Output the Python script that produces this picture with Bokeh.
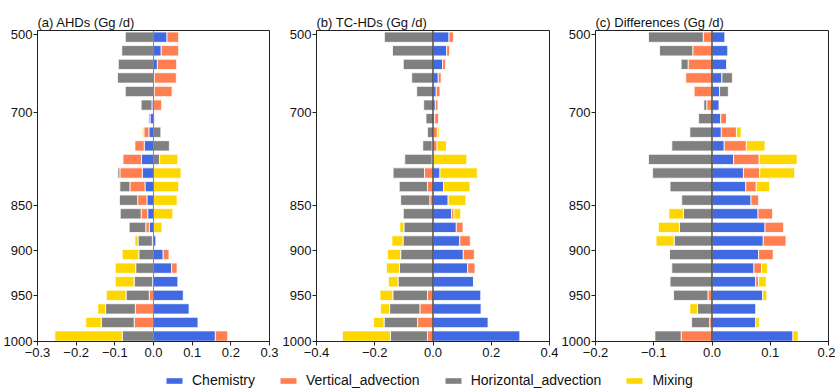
import numpy as np
from bokeh.plotting import figure
from bokeh.models import (Range1d, FixedTicker, CustomJSTickFormatter, Span,
                          Legend, LegendItem)
from bokeh.layouts import row, column
from bokeh.embed import file_html
from bokeh.resources import INLINE

# ---------------- data ----------------
# model levels, listed from the top (~500 hPa) to the surface (~1000 hPa)
levels = list(range(23))
pressure_tick_labels = ["500", "700", "850", "900", "950", "1000"]

series_names = ["Chemistry", "Vertical_advection", "Horizontal_advection", "Mixing"]

# (a) AHDs (Gg /d)
chem_a = [0.035, 0.020, 0.010, 0.002, 0.002, -0.004, -0.009, -0.012, -0.024, -0.031, -0.029, -0.022,
          -0.017, -0.015, -0.011, 0.006, 0.025, 0.047, 0.063, 0.077, 0.092, 0.115, 0.160]
vert_a = [0.030, 0.045, 0.050, 0.057, 0.046, 0.021, 0.003, -0.013, -0.024, -0.048, -0.058, -0.039,
          -0.024, -0.017, -0.009, -0.003, 0.015, 0.014, -0.002, -0.011, -0.047, -0.050, 0.032]
horiz_a = [-0.073, -0.082, -0.091, -0.093, -0.073, -0.028, -0.003, 0.019, 0.041, 0.016, -0.005, -0.026,
           -0.047, -0.054, -0.043, -0.037, -0.038, -0.046, -0.048, -0.060, -0.077, -0.085, -0.081]
mix_a = [0.0, 0.0, 0.0, 0.0, 0.0, 0.0, 0.0, -0.004, 0.0, 0.047, 0.071, 0.065,
         0.061, 0.050, 0.022, -0.008, -0.043, -0.053, -0.049, -0.051, -0.020, -0.040, -0.174]

# (b) TC-HDs (Gg /d)
chem_b = [0.055, 0.047, 0.033, 0.018, 0.011, 0.008, 0.006, 0.0, -0.003, 0.0, 0.024, 0.036,
          0.052, 0.064, 0.080, 0.092, 0.104, 0.119, 0.139, 0.164, 0.165, 0.189, 0.298]
vert_b = [0.015, 0.010, 0.010, 0.010, 0.013, 0.009, 0.013, 0.015, 0.014, -0.003, -0.029, -0.019,
          -0.011, 0.008, 0.023, 0.036, 0.038, 0.025, 0.002, -0.019, -0.045, -0.053, -0.019]
horiz_b = [-0.167, -0.139, -0.102, -0.073, -0.056, -0.032, -0.024, -0.019, -0.032, -0.094, -0.108, -0.097,
           -0.100, -0.102, -0.100, -0.103, -0.111, -0.115, -0.120, -0.119, -0.104, -0.115, -0.127]
mix_b = [0.0, 0.0, 0.0, 0.0, 0.0, 0.0, 0.0, 0.006, 0.032, 0.116, 0.128, 0.091,
         0.061, 0.023, -0.014, -0.038, -0.045, -0.045, -0.033, -0.044, -0.031, -0.036, -0.165]

# (c) Differences (Gg /d)
chem_c = [0.022, 0.027, 0.025, 0.017, 0.013, 0.012, 0.015, 0.016, 0.021, 0.037, 0.054, 0.058,
          0.067, 0.079, 0.091, 0.088, 0.080, 0.072, 0.075, 0.087, 0.075, 0.075, 0.139]
vert_c = [-0.015, -0.033, -0.041, -0.045, -0.031, -0.009, 0.010, 0.026, 0.038, 0.044, 0.028, 0.018,
          0.013, 0.025, 0.032, 0.039, 0.025, 0.013, 0.005, -0.007, 0.0, -0.004, -0.053]
horiz_c = [-0.094, -0.057, -0.012, 0.018, 0.015, -0.005, -0.023, -0.038, -0.069, -0.109, -0.102, -0.072,
           -0.052, -0.049, -0.056, -0.065, -0.073, -0.069, -0.072, -0.059, -0.025, -0.031, -0.045]
mix_c = [0.0, 0.0, 0.0, 0.0, -0.001, 0.0, 0.001, 0.008, 0.032, 0.065, 0.060, 0.023,
         0.0, -0.025, -0.036, -0.031, -0.001, 0.010, 0.013, 0.007, -0.013, 0.006, 0.009]

xticks_a = [-0.3, -0.2, -0.1, 0.0, 0.1, 0.2, 0.3]
xticks_b = [-0.4, -0.2, 0.0, 0.2, 0.4]
xticks_c = [-0.2, -0.1, 0.0, 0.1, 0.2]

# ---------------- style / layout ----------------
COLORS = ["#4169E1", "#FF7F50", "#808080", "#FFD700"]
FONT = "Liberation Sans"
# positions (in level-index units) of the pressure tick marks
pressure_tick_pos = [-0.18, 5.51, 12.40, 15.71, 19.04, 22.40]

y_fmt = CustomJSTickFormatter(args=dict(pos=pressure_tick_pos, labels=pressure_tick_labels), code="""
let best = 0; let d = 1e9;
for (let i = 0; i < pos.length; i++) { const e = Math.abs(pos[i] - tick); if (e < d) { d = e; best = i; } }
return labels[best];
""")
x_fmt = CustomJSTickFormatter(code="""
if (Math.abs(tick) < 1e-9) return '0.0';
return tick.toFixed(1).replace('-', '\u2212');
""")


def make_panel(title, series, xlim, xticks, zero_color, fw, b_left, b_right):
    p = figure(frame_width=fw, frame_height=311,
               min_border_left=b_left, min_border_right=b_right,
               min_border_top=30, min_border_bottom=22,
               x_range=Range1d(*xlim), y_range=Range1d(22.40, -0.49),
               toolbar_location=None, output_backend="svg", title=title)
    y = np.array(levels, dtype=float)
    pos = np.zeros(len(levels))
    neg = np.zeros(len(levels))
    for vals, color in zip(series, COLORS):
        v = np.array(vals, dtype=float)
        left = np.where(v >= 0, pos, neg)
        right = left + v
        pos = np.where(v >= 0, right, pos)
        neg = np.where(v < 0, right, neg)
        m = v != 0
        p.hbar(y=y[m], left=left[m], right=right[m], height=0.76,
               fill_color=color, line_color="white", line_width=0.8)
    p.add_layout(Span(location=0, dimension="height", line_color=zero_color, line_width=1))

    p.title.text_font = FONT
    p.title.text_font_size = "13px"
    p.title.text_font_style = "normal"
    p.title.text_color = "#111111"
    p.title.align = "left"
    p.title.standoff = 2

    p.xgrid.visible = False
    p.ygrid.visible = False
    p.outline_line_color = "#222222"
    p.outline_line_width = 1

    p.xaxis.ticker = FixedTicker(ticks=xticks)
    p.xaxis.formatter = x_fmt
    p.yaxis.ticker = FixedTicker(ticks=pressure_tick_pos)
    p.yaxis.formatter = y_fmt
    for ax in (p.xaxis, p.yaxis):
        ax.axis_line_color = "#222222"
        ax.major_tick_line_color = "#222222"
        ax.major_tick_in = 0
        ax.major_tick_out = 4
        ax.minor_tick_out = 0
        ax.minor_tick_in = 0
        ax.major_label_text_font = FONT
        ax.major_label_text_font_size = "13px"
        ax.major_label_text_color = "#111111"
        ax.major_label_standoff = 2
    p.yaxis.major_label_standoff = 1
    return p


pa = make_panel("(a) AHDs (Gg /d)", [chem_a, vert_a, horiz_a, mix_a], (-0.3, 0.3), xticks_a,
                "#888888", 232, 37, 10)
pb = make_panel("(b) TC-HDs (Gg /d)", [chem_b, vert_b, horiz_b, mix_b], (-0.4, 0.4), xticks_b,
                "black", 233, 37, 9)
pc = make_panel("(c) Differences (Gg /d)", [chem_c, vert_c, horiz_c, mix_c], (-0.2, 0.2), xticks_c,
                "black", 233, 37, 7)

# legend strip (proxy bars sit outside the visible range; only their legend swatches show)
lf = figure(width=830, height=27, min_border=0, toolbar_location=None, output_backend="svg",
            x_axis_type=None, y_axis_type=None, x_range=Range1d(0, 1), y_range=Range1d(0, 1))
lf.outline_line_color = None
items = []
for name, color in zip(series_names, COLORS):
    r = lf.hbar(y=[-5], left=[-3], right=[-2], height=1, fill_color=color, line_color=None)
    items.append(LegendItem(label=name, renderers=[r]))
legend = Legend(items=items, orientation="horizontal", location=(164, 2),
                glyph_width=20, glyph_height=7, label_height=16, label_standoff=8,
                spacing=23, padding=0, margin=0, border_line_color=None,
                background_fill_alpha=0,
                label_text_font=FONT, label_text_font_size="14px", label_text_color="#111111")
lf.add_layout(legend, "center")

layout = column(row(pa, pb, pc), lf)
open("out.html", "w").write(file_html(layout, INLINE))
